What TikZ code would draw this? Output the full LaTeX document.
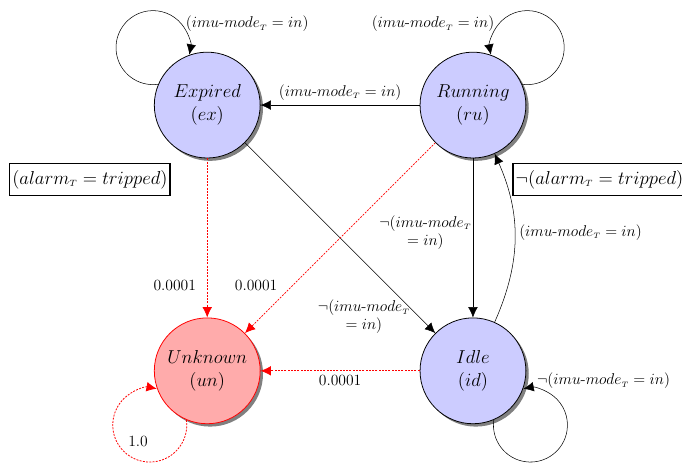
\documentclass[tikz,border=0pt]{standalone}
\usepackage{amsmath}
\usetikzlibrary{positioning,shadows,arrows.meta}

\newcommand{\imu}{imu\mbox{-}mode_{\scriptscriptstyle T}}
\newcommand{\alarm}{alarm_{\scriptscriptstyle T}}

\begin{document}
\begin{tikzpicture}[node distance=4.3cm, >={Latex[length=2.8mm,width=2.6mm]},
        every node/.style={font=\large},
        state/.style={circle, draw, semithick, fill=blue!20, minimum size=2.86cm, inner sep=0pt,
                      align=center, font=\fontsize{15}{18}\selectfont,
                      drop shadow={opacity=1, fill=black!50, shadow xshift=2.2pt, shadow yshift=-2.2pt}},
        bad/.style={state, draw=red, fill=red!33},
        trans/.style={->},
        prob/.style={->, red, line width=0.6pt, dash pattern=on 1.5pt off 1pt},
        guard/.style={draw, line width=1.1pt, font=\fontsize{13.6}{16}\selectfont, inner xsep=2pt, inner ysep=5pt}]

    \useasboundingbox (0,0) rectangle (18.43,12.54);

    % states
    \node[state] (ex) at (5.6,9.7) {$Expired$\\$(ex)$};
    \node[state, right=of ex] (ru) {$Running$\\$(ru)$};
    \node[bad, below=of ex] (un) {$Unknown$\\$(un)$};
    \node[state, below=of ru] (id) {$Idle$\\$(id)$};

    % alarm conditions
    \node[guard] (alarm) at (2.43,7.69) {$(\alarm = tripped)$};
    \node[guard] (noalarm) at (16.2,7.69) {$\neg(\alarm = tripped)$};

    % self loops
    \draw[trans] (ex.157) arc[start angle=-82, end angle=-320, radius=1cm] node[right] {$(\imu = in)$}
        arc[start angle=-320, end angle=-371, radius=1cm];
    \draw[trans] (ru.23) arc[start angle=262, end angle=500, radius=1cm] node[left] {$(\imu = in)$}
        arc[start angle=500, end angle=551, radius=1cm];
    \draw[trans] (id.293) arc[start angle=172, end angle=461, radius=1cm]
        node[anchor=west, xshift=7pt, yshift=6pt] {$\neg(\imu = in)$};

    % transitions
    \draw[trans] (ru) -- node[above] {$(\imu = in)$} (ex);
    \draw[trans] (ex) -- node[pos=0.85, below left, align=center, xshift=6pt, yshift=7pt] {$\neg(\imu$\\$= in)$} (id);
    \draw[trans] (ru) -- node[left, align=center, inner sep=1pt, yshift=4pt] {$\neg(\imu$\\$= in)$} (id);
    \draw[trans] (id) to[bend right=24] node[right, yshift=4pt] {$(\imu = in)$} (ru);

    % unknown
    \draw[prob] (ex) -- node[pos=0.8, left=5pt, text=black] {$0.0001$} (un);
    \draw[prob] (ru) -- node[pos=0.75, left=8pt, text=black] {$0.0001$} (un);
    \draw[prob] (id) -- node[below, text=black] {$0.0001$} (un);
    \draw[prob] (un.247) arc[start angle=8, end angle=-135, radius=1cm] node[above right, text=black] {$1.0$}
        arc[start angle=-135, end angle=-281, radius=1cm];
\end{tikzpicture}
\end{document}
